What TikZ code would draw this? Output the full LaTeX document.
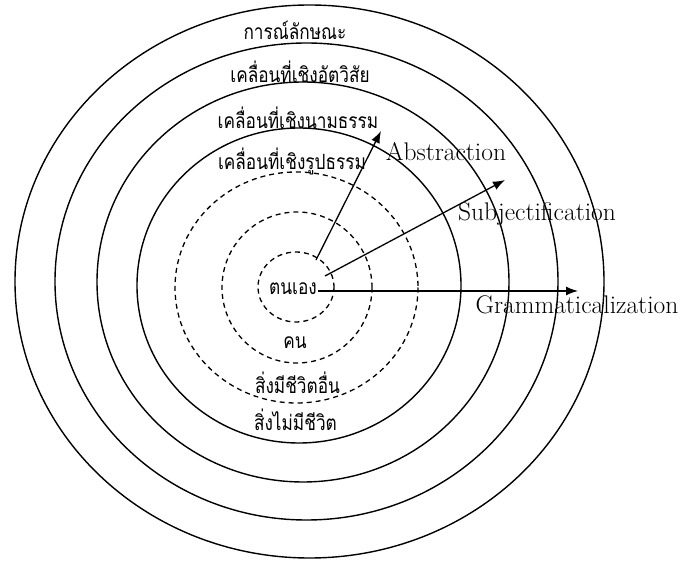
\documentclass[tikz,border=0pt]{standalone}
\usepackage{fontspec}
\newfontfamily\thaifont[Script=Thai, FakeStretch=0.82]{Loma}
\usetikzlibrary{arrows.meta}

\begin{document}
\begin{tikzpicture}[x=1pt, y=-1pt,
    ring/.style={line width=1.4pt},
    dashring/.style={line width=1.3pt, dash pattern=on 5pt off 4pt},
    thlabel/.style={font=\thaifont\fontsize{21}{23}\selectfont, inner sep=1pt},
    enlabel/.style={font=\fontsize{25.5}{27}\selectfont, inner sep=1pt},
    arr/.style={line width=1.3pt, -{Latex[length=12pt, width=9pt]}}]
    \useasboundingbox (0,0) rectangle (681,561);

    % Solid rings, outermost first
    \draw[ring] (309.5,281.5) ellipse [x radius=294.5, y radius=276.5];
    \draw[ring] (306.5,281.5) ellipse [x radius=251.5, y radius=238.5];
    \draw[ring] (303,282) ellipse [x radius=206, y radius=200];
    \draw[ring] (299,285.5) ellipse [x radius=162, y radius=157.5];

    % Dashed rings
    \draw[dashring] (296.5,287.5) ellipse [x radius=121.5, y radius=115.5];
    \draw[dashring] (297,287.5) ellipse [x radius=75, y radius=75.5];
    \draw[dashring] (296,287) ellipse [x radius=38, y radius=35];

    % Ring labels
    \node[thlabel] (case)    at (295,30)  {การณ์ลักษณะ};
    \node[thlabel] (subj)    at (300,72)  {เคลื่อนที่เชิงอัตวิสัย};
    \node[thlabel] (abstr)   at (298,118) {เคลื่อนที่เชิงนามธรรม};
    \node[thlabel] (concr)   at (292,161) {เคลื่อนที่เชิงรูปธรรม};
    \node[thlabel] (self)    at (293,289) {ตนเอง};
    \node[thlabel] (person)  at (295,343) {คน};
    \node[thlabel] (living)  at (297.5,383) {สิ่งมีชีวิตอื่น};
    \node[thlabel] (nonliving) at (295.5,420) {สิ่งไม่มีชีวิต};

    % Process labels
    \node[enlabel] (abs lbl)  at (446,152) {Abstraction};
    \node[enlabel] (subj lbl) at (537,214) {Subjectification};
    \node[enlabel] (gram lbl) at (577,305) {Grammaticalization};

    % Arrows out of the self
    \coordinate (abs start)  at (316,260);
    \coordinate (abs end)    at (381,131);
    \coordinate (subj start) at (325,276);
    \coordinate (subj end)   at (505,180);
    \coordinate (gram end)   at (578,291);
    \draw[arr] (abs start) -- (abs end);
    \draw[arr] (subj start) -- (subj end);
    \draw[arr] (self.east |- gram end) -- (gram end);
\end{tikzpicture}
\end{document}
